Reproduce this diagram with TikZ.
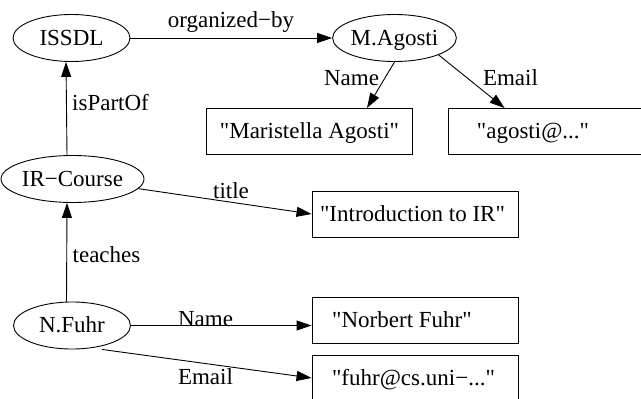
\documentclass[tikz,border=0pt]{standalone}
\usepackage{fontspec}
\setmainfont{Liberation Serif}[Ligatures=TeXOff]
\usetikzlibrary{arrows.meta,shapes.geometric,calc}

\begin{document}
\begin{tikzpicture}[x=1pt,y=-1pt,
  every node/.style={font=\fontsize{23}{27}\selectfont},
  entity/.style={ellipse,draw,line width=0.9pt,minimum width=117pt,minimum height=47pt,
                 inner sep=0pt,text height=14pt,text depth=0pt},
  literal/.style={rectangle,draw,line width=0.9pt,minimum width=206pt,minimum height=46pt,
                  inner sep=0pt,text height=14pt,text depth=0pt},
  rel/.style={line width=0.9pt,-{Triangle[length=15pt,width=10pt]}},
  lbl/.style={anchor=base,inner sep=0pt}]

\useasboundingbox (0,0) rectangle (641,399);
\clip (0,0) rectangle (641,399);

% resources
\node[entity] (issdl)    at (71.5,38)    {ISSDL};
\node[entity] (agosti)   at (394.5,38)   {M.Agosti};
\node[entity] (ircourse) at (72.5,179)   {IR−Course};
\node[entity] (nfuhr)    at (72,325.5)   {N.Fuhr};

% literal values
\node[literal] (mname)  at (309.5,131.5) {"Maristella Agosti"};
\node[literal] (mmail)  at (551,131.5)   {"agosti@..."\hspace*{36pt}};
\node[literal] (title)  at (415,214)     {"Introduction to IR"\hspace*{5pt}};
\node[literal] (fname)  at (415,320)     {"Norbert Fuhr"\hspace*{26pt}};
\node[literal] (fmail)  at (415,378)     {"fuhr@cs.uni−..."\hspace*{3pt}};

% properties
\draw[rel] (issdl) -- (agosti);
\draw[rel] ([xshift=-5.5pt]ircourse.north) -- ([xshift=-5.5pt]issdl.south);
\draw[rel] ([xshift=-5.5pt]nfuhr.north) -- ([xshift=-5.5pt]ircourse.south);
\draw[rel] (ircourse) -- (title.west);
\draw[rel] (agosti.south) -- ([xshift=57.5pt]mname.north);
\draw[rel] (agosti.-21) -- ($(mmail.north west)+(57,0)$);
\draw[rel] (nfuhr.east) -- (nfuhr.east -| fname.west);
\draw[rel] ($(nfuhr.south)+(30,0)$) -- (fmail.west);

% property labels
\node[lbl] (lorg)   at (231,27)    {organized−by};
\node[lbl] (lpart)  at (110.5,110) {isPartOf};
\node[lbl] (lteach) at (106.5,262) {teaches};
\node[lbl] (ltitle) at (231,198)   {title};
\node[lbl] (lmname) at (351.5,85)  {Name};
\node[lbl] (lmmail) at (510.5,85)  {Email};
\node[lbl] (lfname) at (205.5,326) {Name};
\node[lbl] (lfmail) at (205.5,384) {Email};
\end{tikzpicture}
\end{document}
